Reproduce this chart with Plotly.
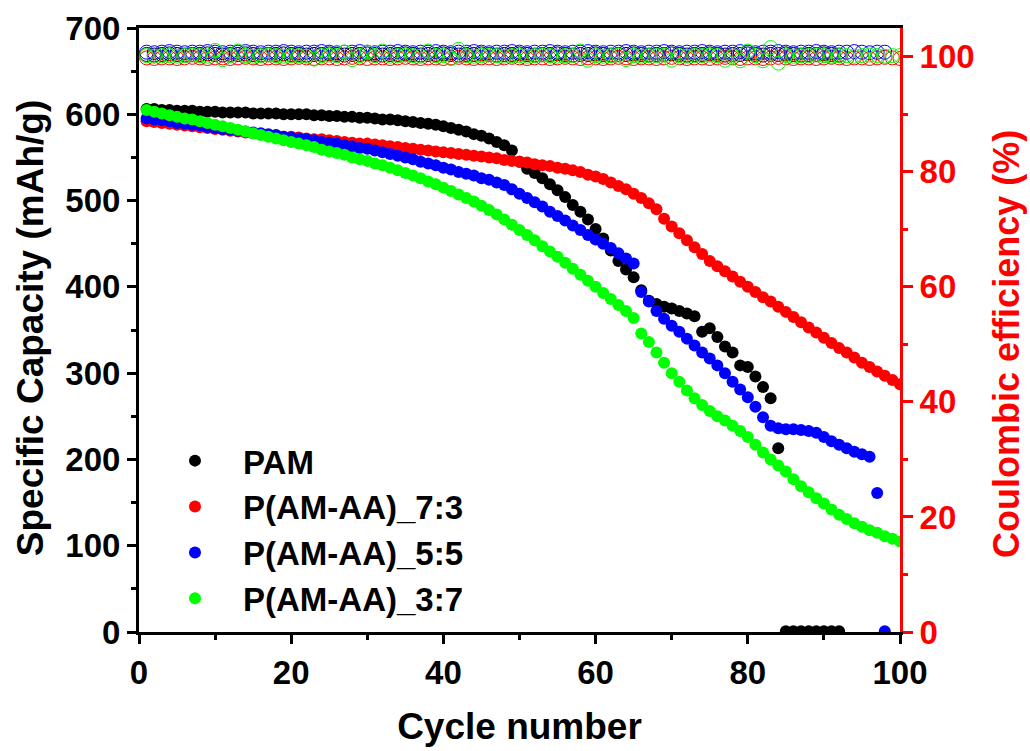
import plotly.graph_objects as go

# ---------------- data ----------------
cycles = list(range(1, 101))

pam_cap = [606, 606, 605, 605, 604, 604, 604, 603, 603, 603,
           602, 602, 602, 602, 601, 601, 601, 601, 600, 600,
           600, 600, 599, 599, 598, 598, 597, 597, 596, 596,
           595, 594, 594, 593, 592, 591, 590, 589, 588, 586,
           584, 582, 580, 577, 575, 572, 568, 564, 558, 545,
           537, 532, 526, 519, 512, 504, 495, 487, 478, 467,
           456, 442, 430, 420, 411, 396, 384, 380, 377, 375,
           372, 369, 366, 348, 352, 342, 331, 324, 309, 307,
           296, 284, 271, 213, 1, 1, 1, 1, 1, 1,
           1, 1]

am73_cap = [592, 591, 590, 589, 588, 587, 586, 585, 584, 583,
            582, 581, 580, 579, 578, 577, 576, 575, 574, 574,
            573, 572, 571, 571, 570, 569, 568, 567, 566, 566,
            565, 564, 563, 562, 561, 560, 559, 558, 557, 556,
            555, 554, 553, 552, 551, 550, 549, 547, 546, 545,
            544, 542, 541, 540, 538, 537, 535, 533, 530, 528,
            525, 521, 517, 513, 508, 503, 497, 490, 479, 470,
            462, 454, 446, 438, 430, 424, 418, 412, 406, 400,
            394, 388, 383, 377, 371, 365, 359, 353, 347, 341,
            335, 329, 324, 318, 312, 307, 302, 297, 292, 287]

am55_cap = [595, 594, 593, 592, 590, 589, 588, 587, 585, 584,
            583, 582, 581, 580, 579, 578, 577, 576, 574, 573,
            572, 571, 570, 568, 567, 566, 564, 563, 561, 560,
            558, 556, 554, 552, 550, 548, 545, 543, 541, 538,
            536, 533, 531, 529, 526, 524, 521, 518, 513, 508,
            503, 498, 493, 487, 482, 477, 471, 466, 460, 455,
            450, 445, 439, 433, 427, 394, 383, 372, 363, 355,
            348, 340, 332, 324, 317, 309, 300, 290, 281, 272,
            261, 249, 239, 236, 235, 235, 234, 233, 231, 226,
            221, 217, 213, 209, 206, 203, 161, 1]

am37_cap = [605, 603, 601, 599, 597, 595, 594, 592, 590, 588,
            586, 584, 582, 580, 578, 576, 574, 572, 570, 568,
            566, 564, 562, 559, 557, 555, 553, 550, 548, 546,
            543, 541, 538, 535, 532, 529, 526, 522, 519, 515,
            511, 507, 503, 499, 494, 489, 484, 478, 472, 466,
            460, 454, 447, 441, 435, 428, 421, 414, 407, 400,
            393, 386, 379, 372, 364, 346, 336, 324, 312, 300,
            290, 280, 271, 263, 256, 250, 245, 239, 233, 226,
            217, 208, 200, 193, 186, 177, 169, 162, 155, 149,
            142, 136, 131, 126, 122, 118, 115, 111, 108, 105]

pam_ce = [100.4, 100.3, 100.4, 100.5, 100.4, 100.3, 100.4, 100.4, 100.5, 100.4,
          100.3, 100.4, 100.4, 100.5, 100.4, 100.3, 100.4, 100.4, 100.5, 100.4,
          100.4, 100.3, 100.4, 100.4, 100.5, 100.4, 100.3, 100.4, 100.4, 100.5,
          100.4, 100.3, 100.4, 100.4, 100.5, 100.4, 100.3, 100.4, 100.4, 100.5,
          100.4, 100.3, 100.4, 100.4, 100.5, 100.4, 100.3, 100.4, 100.4, 100.5,
          100.4, 100.3, 100.4, 100.4, 100.5, 100.4, 100.3, 100.4, 100.4, 100.5,
          100.4, 100.3, 100.4, 100.4, 100.5, 100.4, 100.3, 100.4, 100.4, 100.5,
          100.4, 100.3, 100.4, 100.4, 100.5, 100.4, 100.3, 100.4, 100.4, 100.5,
          100.4, 100.3, 100.4, 100.4, 100.5, 100.4, 100.3, 100.4, 100.4, 100.5,
          100.4, 100.3]

am73_ce = [99.8, 99.7, 99.8, 99.8, 99.7, 99.8, 99.9, 99.8, 99.7, 99.8,
           99.8, 99.7, 99.8, 99.9, 99.8, 99.7, 99.8, 99.8, 99.7, 99.8,
           99.9, 99.8, 99.7, 99.8, 99.8, 99.7, 99.8, 99.9, 99.8, 99.7,
           99.8, 99.8, 99.7, 99.8, 99.9, 99.8, 99.7, 99.8, 99.8, 99.7,
           99.8, 99.9, 99.8, 99.7, 99.8, 99.8, 99.7, 99.8, 99.9, 99.8,
           99.7, 99.8, 99.8, 99.7, 99.8, 99.9, 99.8, 99.7, 99.8, 99.8,
           99.7, 99.8, 99.9, 99.8, 99.7, 99.8, 99.8, 99.7, 99.8, 99.9,
           99.8, 99.7, 99.8, 99.8, 99.7, 99.8, 99.9, 99.8, 99.7, 99.8,
           99.8, 99.7, 99.8, 99.9, 99.8, 99.7, 99.8, 99.8, 99.7, 99.8,
           99.9, 99.8, 99.7, 99.8, 99.8, 99.7, 99.8, 99.9, 99.8, 99.7]

am55_ce = [100.8, 100.7, 100.8, 100.9, 100.8, 100.7, 100.8, 100.8, 100.9, 100.8,
           100.7, 100.8, 100.8, 100.9, 100.8, 100.7, 100.8, 100.8, 100.9, 100.8,
           100.7, 100.8, 100.8, 100.9, 100.8, 100.7, 100.8, 100.8, 100.9, 100.8,
           100.7, 100.8, 100.8, 100.9, 100.8, 100.7, 100.8, 100.8, 100.9, 100.8,
           100.7, 100.8, 100.8, 100.9, 100.8, 100.7, 100.8, 100.8, 100.9, 100.8,
           100.7, 100.8, 100.8, 100.9, 100.8, 100.7, 100.8, 100.8, 100.9, 100.8,
           100.7, 100.8, 100.8, 100.9, 100.8, 100.7, 100.8, 100.8, 100.9, 100.8,
           100.7, 100.8, 100.8, 100.9, 100.8, 100.7, 100.8, 100.8, 100.9, 100.8,
           100.7, 100.8, 100.8, 100.9, 100.8, 100.7, 100.8, 100.8, 100.9, 100.8,
           100.7, 100.8, 100.8, 100.9, 100.8, 100.7, 100.8, 100.8]

am37_ce = [100.2, 100.1, 100.2, 100.2, 100.1, 100.2, 100.3, 100.2, 100.1, 101.1,
           99.5, 100.2, 101.0, 100.2, 100.1, 100.2, 100.3, 100.2, 100.1, 100.2,
           100.2, 100.1, 99.6, 100.2, 100.3, 100.2, 100.8, 99.5, 100.2, 100.8,
           100.2, 101.0, 100.1, 100.2, 100.3, 100.2, 100.1, 101.0, 100.2, 100.2,
           99.7, 101.3, 100.2, 100.1, 100.2, 100.3, 100.2, 100.1, 100.2, 100.2,
           100.1, 100.2, 100.3, 100.2, 100.1, 100.2, 100.2, 101.0, 99.4, 100.2,
           100.1, 100.2, 100.3, 99.5, 100.2, 100.1, 100.2, 100.2, 100.3, 99.4,
           100.2, 100.1, 100.2, 100.2, 100.3, 100.2, 99.4, 100.1, 99.3, 101.0,
           100.2, 99.3, 101.6, 98.9, 100.2, 100.1, 100.2, 100.2, 100.3, 100.2,
           100.1, 100.2, 100.2, 100.1, 100.2, 100.3, 100.2, 100.1, 100.2, 100.2]

names = ["PAM", "P(AM-AA)_7:3", "P(AM-AA)_5:5", "P(AM-AA)_3:7"]
colors = ["#000000", "#FF0000", "#0000FF", "#00FF00"]
capacities = [pam_cap, am73_cap, am55_cap, am37_cap]
efficiencies = [pam_ce, am73_ce, am55_ce, am37_ce]

x_ticks = [0, 20, 40, 60, 80, 100]
y_ticks = [0, 100, 200, 300, 400, 500, 600, 700]
y2_ticks = [0, 20, 40, 60, 80, 100]

FONT = "Liberation Sans"

fig = go.Figure()

for name, col, ce in zip(names, colors, efficiencies):
    fig.add_trace(go.Scatter(
        x=cycles[:len(ce)], y=ce, mode="markers", yaxis="y2",
        marker=dict(symbol="circle-open", size=14, color=col, line=dict(width=1, color=col)),
        showlegend=False, hoverinfo="skip"))

for name, col, cap in zip(names, colors, capacities):
    fig.add_trace(go.Scatter(
        x=cycles[:len(cap)], y=cap, mode="markers", name=name,
        marker=dict(symbol="circle", size=12, color=col, line=dict(width=0))))

tickfont = dict(family=FONT, size=33, color="#000000", weight="bold")

fig.update_layout(
    width=1030, height=751,
    margin=dict(l=139, r=130, t=28, b=119, autoexpand=False),
    plot_bgcolor="white", paper_bgcolor="white",
    font=dict(family=FONT, color="#000000"),
    xaxis=dict(
        range=[0, 100], tickvals=x_ticks, ticktext=[str(v) for v in x_ticks],
        ticks="outside", ticklen=9, tickwidth=3, tickcolor="#000000",
        showline=True, linewidth=3, linecolor="#000000", mirror=True,
        showgrid=False, zeroline=False, tickfont=tickfont, automargin=False,
        minor=dict(dtick=10, tick0=0, ticks="outside", ticklen=5, tickwidth=3, tickcolor="#000000", showgrid=False),
        title=dict(text="Cycle number", font=dict(family=FONT, size=37, color="#000000", weight="bold"), standoff=24),
    ),
    yaxis=dict(
        range=[0, 700], tickvals=y_ticks, ticktext=[str(v) for v in y_ticks],
        ticks="outside", ticklen=9, tickwidth=3, tickcolor="#000000",
        showline=True, linewidth=3, linecolor="#000000",
        showgrid=False, zeroline=False, tickfont=tickfont, automargin=False,
        minor=dict(dtick=50, tick0=0, ticks="outside", ticklen=5, tickwidth=3, tickcolor="#000000", showgrid=False),
    ),
    yaxis2=dict(
        range=[0, 105], overlaying="y", side="right", anchor="x",
        tickvals=y2_ticks, ticktext=[str(v) for v in y2_ticks],
        ticks="outside", ticklen=10, tickwidth=3, tickcolor="#FF0000",
        showline=True, linewidth=3, linecolor="#FF0000",
        showgrid=False, zeroline=False, automargin=False,
        tickfont=dict(family=FONT, size=33, color="#FF0000", weight="bold"),
        minor=dict(dtick=10, tick0=0, ticks="outside", ticklen=5, tickwidth=3, tickcolor="#FF0000", showgrid=False),
    ),
    legend=dict(
        x=0.0105, y=0.33, xanchor="left", yanchor="top",
        bgcolor="rgba(0,0,0,0)", borderwidth=0,
        font=dict(family=FONT, size=33, color="#000000", weight="bold"),
        itemwidth=86, tracegroupgap=0,
    ),
    annotations=[
        dict(text="Specific Capacity (mAh/g)", xref="paper", yref="paper",
             x=-0.1432, y=0.503, xanchor="center", yanchor="middle", textangle=-90,
             showarrow=False, font=dict(family=FONT, size=37, color="#000000", weight="bold")),
        dict(text="Coulombic efficiency (%)", xref="paper", yref="paper",
             x=1.1406, y=0.477, xanchor="center", yanchor="middle", textangle=-90,
             showarrow=False, font=dict(family=FONT, size=36, color="#FF0000", weight="bold")),
    ],
)

fig.write_html("out.html")
